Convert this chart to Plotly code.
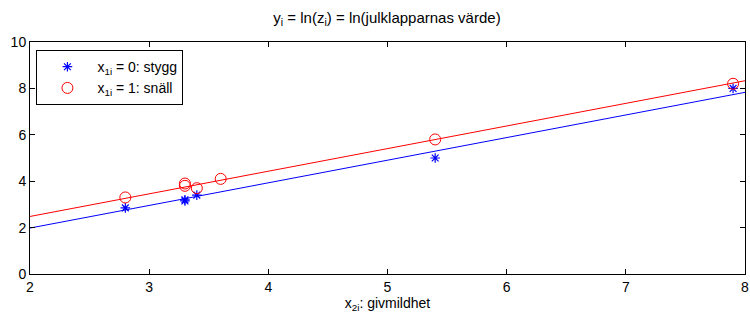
import plotly.graph_objects as go

# Data
x_stygg = [2.8, 3.3, 3.3, 3.4, 5.4, 7.9]
y_stygg = [2.85, 3.15, 3.2, 3.4, 5.0, 8.0]
x_snall = [2.8, 3.3, 3.3, 3.4, 3.6, 5.4, 7.9]
y_snall = [3.3, 3.9, 3.8, 3.7, 4.1, 5.8, 8.2]
line_x = [2, 8]
line_stygg = [1.98, 7.83]
line_snall = [2.48, 8.33]
x_ticks = [2, 3, 4, 5, 6, 7, 8]
y_ticks = [0, 2, 4, 6, 8, 10]

FONT = "Liberation Sans, Arial, sans-serif"

fig = go.Figure()
fig.add_trace(go.Scatter(x=x_stygg, y=y_stygg, mode="markers",
                         marker=dict(symbol="asterisk-open", size=8, color="blue",
                                     line=dict(color="blue", width=1.2)),
                         name="x<sub>1i</sub> = 0: stygg"))
fig.add_trace(go.Scatter(x=x_snall, y=y_snall, mode="markers",
                         marker=dict(symbol="circle-open", size=11, color="red",
                                     line=dict(color="red", width=1)),
                         name="x<sub>1i</sub> = 1: snäll"))
fig.add_trace(go.Scatter(x=line_x, y=line_stygg, mode="lines",
                         line=dict(color="blue", width=1), showlegend=False))
fig.add_trace(go.Scatter(x=line_x, y=line_snall, mode="lines",
                         line=dict(color="red", width=1), showlegend=False))

axis_common = dict(showgrid=False, zeroline=False, showline=True, linecolor="black",
                   linewidth=1, mirror="ticks", ticks="inside", ticklen=5,
                   tickcolor="black", automargin=False,
                   tickfont=dict(size=14, family=FONT, color="black"))

fig.update_layout(
    width=750, height=321,
    margin=dict(l=30, r=5, t=42, b=47),
    paper_bgcolor="white", plot_bgcolor="white",
    font=dict(family=FONT, size=13, color="black"),
    title=dict(text="y<sub>i</sub> = ln(z<sub>i</sub>) = ln(julklapparnas värde)",
               x=0.516, xanchor="center", y=0.945, yanchor="middle",
               font=dict(size=15, family=FONT, color="black")),
    xaxis=dict(range=[2, 8], tickvals=x_ticks,
               title=dict(text="x<sub>2i</sub>: givmildhet", standoff=0,
                          font=dict(size=14, family=FONT)),
               **axis_common),
    yaxis=dict(range=[0, 10], tickvals=y_ticks, **axis_common),
    legend=dict(x=0.009, y=0.965, xanchor="left", yanchor="top",
                bgcolor="white", bordercolor="black", borderwidth=1,
                font=dict(size=14, family=FONT, color="black"),
                tracegroupgap=0, itemwidth=50),
)
fig.write_html("out.html", config={"displayModeBar": False},
               post_script="document.body.style.margin='0';")
